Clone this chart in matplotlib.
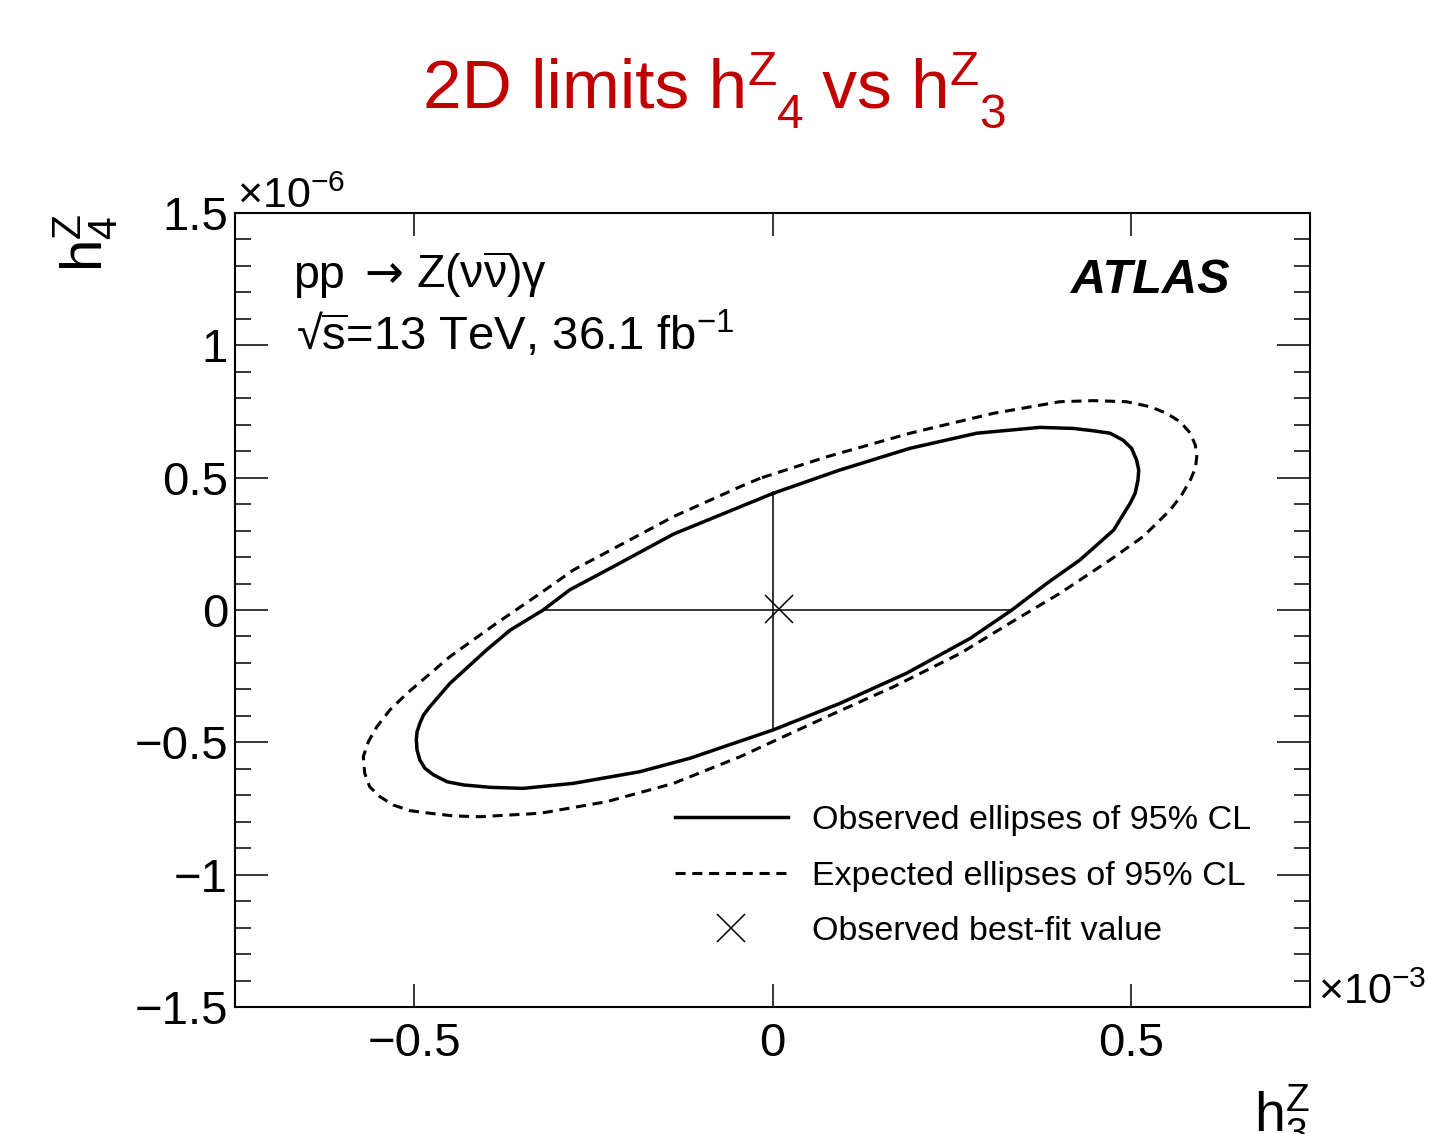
import matplotlib
matplotlib.use("Agg")
import matplotlib.pyplot as plt
from matplotlib.lines import Line2D
from matplotlib.ticker import FixedLocator, MultipleLocator, FuncFormatter, NullLocator

# observed 95% CL contour (h3 in 1e-3, h4 in 1e-6)
obs_h3 = [0.001, -0.138, -0.222, -0.283, -0.320, -0.366, -0.399, -0.450, -0.464,
          -0.478, -0.487, -0.492, -0.496, -0.497, -0.496, -0.492, -0.485, -0.473,
          -0.454, -0.431, -0.394, -0.348, -0.278, -0.185, -0.115, 0.001, 0.094,
          0.187, 0.276, 0.334, 0.383, 0.429, 0.476, 0.499, 0.506, 0.510, 0.511,
          0.508, 0.501, 0.489, 0.471, 0.448, 0.420, 0.373, 0.285, 0.192, 0.094, 0.001]
obs_h4 = [0.441, 0.287, 0.164, 0.076, 0.0, -0.076, -0.151, -0.277, -0.321,
          -0.365, -0.397, -0.428, -0.460, -0.491, -0.529, -0.567, -0.598, -0.623,
          -0.649, -0.661, -0.670, -0.674, -0.655, -0.611, -0.560, -0.453, -0.353,
          -0.239, -0.107, 0.0, 0.101, 0.189, 0.302, 0.403, 0.441, 0.491, 0.529,
          0.567, 0.611, 0.642, 0.668, 0.677, 0.686, 0.690, 0.668, 0.611, 0.529, 0.441]

# expected 95% CL contour
exp_h3 = [-0.017, -0.045, -0.138, -0.208, -0.278, -0.324, -0.385, -0.450, -0.510,
          -0.534, -0.552, -0.564, -0.571, -0.569, -0.562, -0.548, -0.529, -0.506,
          -0.478, -0.445, -0.408, -0.324, -0.231, -0.138, -0.045, 0.076, 0.169,
          0.262, 0.331, 0.401, 0.471, 0.517, 0.555, 0.571, 0.583, 0.590, 0.592,
          0.590, 0.583, 0.569, 0.550, 0.527, 0.494, 0.448, 0.401, 0.308, 0.192,
          0.076, -0.017]
exp_h4 = [0.498, 0.466, 0.353, 0.252, 0.151, 0.063, -0.050, -0.176, -0.315,
          -0.378, -0.441, -0.498, -0.554, -0.617, -0.668, -0.705, -0.737, -0.758,
          -0.768, -0.778, -0.781, -0.768, -0.724, -0.655, -0.554, -0.403, -0.290,
          -0.164, -0.050, 0.063, 0.189, 0.277, 0.378, 0.435, 0.491, 0.535, 0.579,
          0.623, 0.668, 0.711, 0.743, 0.768, 0.787, 0.791, 0.787, 0.743, 0.668,
          0.579, 0.498]

# 1D intervals drawn as a cross through zero
h3_interval = [-0.320, 0.334]
h4_interval = [-0.453, 0.441]
best_fit = (0.009, 0.005)

x_ticks = [-0.5, 0, 0.5]
y_ticks = [-1.5, -1, -0.5, 0, 0.5, 1, 1.5]

legend_labels = ["Observed ellipses of 95% CL",
                 "Expected ellipses of 95% CL",
                 "Observed best-fit value"]

W, H = 1430, 1134
RED = "#C00000"
SANS = ["Liberation Sans", "DejaVu Sans"]

plt.rcParams["font.family"] = SANS
plt.rcParams["mathtext.fontset"] = "custom"
plt.rcParams["mathtext.rm"] = "Liberation Sans"
plt.rcParams["mathtext.it"] = "Liberation Sans:italic"
plt.rcParams["mathtext.bf"] = "Liberation Sans:bold"

fig = plt.figure(figsize=(W / 100, H / 100), dpi=100)
fig.patch.set_facecolor("white")
ax = fig.add_axes([235 / W, 1 - 1007 / H, 1075 / W, 794 / H])
renderer = fig.canvas.get_renderer()

DASH = (0, (3.3, 2.2))
ax.plot(obs_h3, obs_h4, color="black", lw=2.5, solid_joinstyle="round")
ax.plot(exp_h3, exp_h4, color="black", lw=2.2, linestyle=DASH)
ax.plot(h3_interval, [0, 0], color="black", lw=1.1)
ax.plot([0, 0], h4_interval, color="black", lw=1.1)
ax.plot([best_fit[0]], [best_fit[1]], marker="x", color="black", ms=20, mew=1.1,
        linestyle="none")

ax.set_xlim(-0.75, 0.75)
ax.set_ylim(-1.5, 1.5)

fmt = FuncFormatter(lambda v, p: ("%g" % v).replace("-", "\u2212"))
ax.xaxis.set_major_locator(FixedLocator(x_ticks))
ax.xaxis.set_minor_locator(NullLocator())
ax.yaxis.set_major_locator(FixedLocator(y_ticks))
ax.yaxis.set_minor_locator(MultipleLocator(0.1))
ax.xaxis.set_major_formatter(fmt)
ax.yaxis.set_major_formatter(fmt)

ax.tick_params(which="both", direction="in", top=True, right=True, width=1.1,
               labelsize=34)
ax.tick_params(axis="x", which="major", length=16.5, pad=11)
ax.tick_params(axis="y", which="major", length=23.8, pad=5)
ax.tick_params(axis="y", which="minor", length=11.5)
for sp in ax.spines.values():
    sp.set_linewidth(1.5)

# axis titles, ROOT style at the axis ends
fig.text(85 / W, 1 - 213 / H, r"$\mathrm{h}^{\mathrm{Z}}_{\mathrm{4}}$", rotation=90,
         fontsize=42, ha="center", va="top")
fig.text(1310 / W, 1 - 1082 / H, r"$\mathrm{h}^{\mathrm{Z}}_{\mathrm{3}}$",
         fontsize=40, ha="right", va="top")

# exponent labels
fig.text(237 / W, 1 - 208 / H, r"$\times\mathrm{10}^{\mathrm{-6}}$", fontsize=31,
         ha="left", va="baseline")
fig.text(1318 / W, 1 - 1004 / H, r"$\times\mathrm{10}^{\mathrm{-3}}$", fontsize=31,
         ha="left", va="baseline")

# labels inside the frame
fig.text(293 / W, 1 - 288 / H, "pp", fontsize=33.5, ha="left", va="baseline")
t = fig.text(364 / W, 1 - 288 / H, "\u2192", fontsize=33.5, family="DejaVu Sans",
             ha="left", va="baseline")
x1 = t.get_window_extent(renderer).x1
fig.text((x1 + 13) / W, 1 - 288 / H,
         r"Z($\mathrm{\nu}\overline{\mathrm{\nu}}$)$\mathrm{\gamma}$",
         fontsize=33.5, ha="left", va="baseline")
fig.text(296 / W, 1 - 350 / H,
         "\u221a" + r"$\overline{\mathrm{s}}$=13 TeV, 36.1 fb$^{\mathrm{-1}}$",
         fontsize=34, ha="left", va="baseline")
fig.text(1230 / W, 1 - 293 / H, "ATLAS", fontsize=35, fontweight="bold",
         fontstyle="italic", ha="right", va="baseline")

handles = [Line2D([], [], color="black", lw=2.5),
           Line2D([], [], color="black", lw=2.2, linestyle=DASH),
           Line2D([], [], color="black", marker="x", ms=20, mew=1.1, linestyle="none")]
ax.legend(handles, legend_labels, loc="upper left",
          bbox_to_anchor=(675 / W, 1 - 805 / H), bbox_transform=fig.transFigure,
          frameon=False, fontsize=24.5, handlelength=3.32, handletextpad=0.7,
          borderpad=0, borderaxespad=0, labelspacing=0.72)

# title built from pieces so the sub/superscripts sit side by side
base = 108
x = 423
pieces = [("2D limits h", 50, 0), ("Z", 34.5, 23), ("4", 34.5, -20),
          (" vs h", 50, 0), ("Z", 34.5, 23), ("3", 34.5, -20)]
for s, size, dy in pieces:
    t = fig.text(x / W, 1 - (base - dy) / H, s, fontsize=size,
                 color=RED, ha="left", va="baseline")
    x = t.get_window_extent(renderer).x1

fig.savefig("out.png", dpi=100)
